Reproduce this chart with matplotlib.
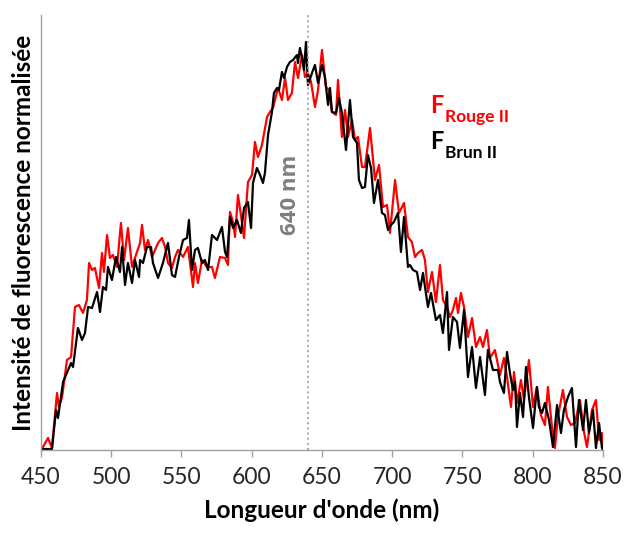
import numpy as np
import matplotlib
matplotlib.use("Agg")
import matplotlib.pyplot as plt

plt.rcParams['font.family'] = ['Lato', 'DejaVu Sans']

# Spectres (intensite brute, normalisee plus bas)
nm_rouge = [451.4, 455.0, 457.8, 461.4, 462.8, 465.0, 468.5, 471.4, 474.2, 477.0,
            479.9, 482.7, 484.2, 486.3, 488.4, 491.3, 493.4, 494.8, 497.0, 499.1,
            501.2, 504.1, 506.9, 509.1, 511.9, 514.8, 518.3, 520.5, 521.9, 524.0,
            526.2, 529.0, 533.3, 536.1, 538.3, 540.4, 543.2, 545.4, 547.5, 551.1,
            554.6, 558.2, 559.6, 561.7, 564.6, 568.1, 571.7, 573.8, 577.4, 581.0,
            583.1, 584.5, 586.7, 588.1, 590.2, 592.3, 594.5, 597.3, 600.2, 602.3,
            604.4, 607.3, 610.9, 613.0, 615.1, 618.7, 621.5, 623.7, 625.8, 628.6,
            630.8, 632.9, 635.8, 637.9, 640.0, 642.2, 645.0, 647.2, 650.0, 652.8,
            655.0, 657.1, 660.0, 661.4, 664.2, 666.4, 668.5, 671.4, 673.5, 675.6,
            678.5, 680.6, 684.2, 687.7, 690.6, 693.4, 696.3, 698.4, 702.0, 704.8,
            708.4, 711.2, 714.0, 716.2, 718.3, 721.2, 723.3, 725.4, 728.3, 731.1,
            734.0, 736.1, 739.0, 741.1, 743.2, 745.4, 746.8, 748.9, 751.1, 753.9,
            756.8, 759.6, 762.5, 764.6, 767.4, 769.6, 773.1, 776.7, 779.5, 781.7,
            784.5, 786.7, 788.8, 791.6, 793.8, 797.3, 800.2, 803.0, 805.8, 808.7,
            810.8, 813.7, 815.8, 817.9, 821.5, 824.4, 827.2, 830.1, 833.6, 836.5,
            838.6, 842.2, 845.0, 847.2, 849.3, 850.0]
i_rouge = [3, 12, 2, 57, 43, 53, 90, 93, 143, 145,
           137, 150, 187, 180, 182, 162, 197, 178, 215, 192,
           195, 183, 227, 190, 222, 183, 198, 207, 225, 200,
           210, 193, 207, 212, 203, 187, 182, 193, 200, 193,
           203, 163, 187, 167, 190, 183, 183, 172, 193, 192,
           185, 238, 228, 213, 255, 235, 212, 268, 275, 308,
           293, 305, 333, 338, 342, 362, 350, 372, 350, 357,
           388, 372, 395, 373, 377, 368, 343, 360, 400, 363,
           360, 338, 335, 370, 313, 340, 313, 330, 310, 313,
           283, 283, 322, 270, 285, 243, 245, 217, 270, 237,
           247, 213, 208, 193, 197, 200, 190, 158, 178, 148,
           185, 150, 143, 133, 140, 152, 137, 157, 143, 113,
           132, 103, 113, 103, 120, 92, 100, 75, 92, 73,
           43, 78, 47, 70, 50, 90, 43, 63, 35, 25,
           63, 23, 2, 33, 60, 33, 25, 27, 50, 18,
           3, 40, 50, 10, 17, 2]

nm_brun = [451.4, 457.8, 460.7, 462.1, 465.7, 471.4, 472.8, 476.3, 479.2, 481.3,
           483.5, 486.3, 489.9, 492.0, 494.1, 496.3, 497.7, 500.5, 503.4, 506.2,
           507.7, 509.8, 511.9, 514.8, 516.9, 519.8, 520.5, 522.6, 525.4, 528.3,
           529.7, 533.3, 536.8, 540.4, 543.2, 545.4, 548.2, 551.1, 553.9, 555.3,
           557.5, 559.6, 561.7, 564.6, 566.7, 568.9, 571.7, 575.3, 578.8, 581.0,
           582.4, 584.5, 586.7, 589.5, 592.3, 594.5, 597.3, 599.5, 600.9, 603.7,
           605.9, 608.0, 609.4, 611.6, 614.4, 615.8, 618.0, 619.4, 621.5, 623.0,
           625.1, 627.2, 629.4, 632.2, 632.9, 634.3, 635.8, 637.2, 638.6, 640.0,
           642.9, 645.0, 647.2, 650.0, 652.1, 654.3, 655.7, 657.1, 660.0, 662.1,
           664.2, 667.1, 669.9, 672.1, 674.9, 676.3, 678.5, 680.6, 682.7, 684.9,
           687.0, 689.9, 692.7, 694.8, 697.0, 699.1, 701.2, 704.1, 706.2, 708.4,
           711.2, 712.6, 714.8, 717.6, 719.8, 721.9, 725.4, 727.6, 731.1, 734.0,
           736.1, 739.0, 740.4, 743.2, 746.1, 748.2, 751.1, 753.9, 756.8, 759.6,
           762.5, 766.0, 768.1, 771.7, 775.3, 776.7, 779.5, 781.7, 783.8, 785.9,
           787.4, 788.8, 790.9, 793.1, 795.2, 797.3, 800.2, 803.0, 804.4, 806.6,
           808.7, 811.6, 814.4, 817.3, 820.1, 822.2, 825.1, 827.9, 830.8, 832.9,
           835.8, 837.9, 840.0, 842.9, 845.0, 847.2, 849.3, 850.0]
i_brun = [1, 1, 40, 32, 68, 87, 83, 122, 110, 117,
          143, 142, 158, 138, 163, 160, 183, 170, 193, 178,
          203, 165, 187, 167, 190, 173, 190, 187, 203, 203,
          187, 172, 187, 207, 175, 173, 193, 210, 212, 230,
          180, 200, 202, 187, 190, 180, 215, 210, 223, 198,
          193, 233, 222, 230, 217, 242, 248, 222, 267, 282,
          275, 267, 277, 315, 338, 357, 362, 360, 378, 372,
          383, 388, 390, 395, 387, 402, 392, 380, 408, 365,
          377, 385, 367, 385, 373, 345, 362, 338, 337, 352,
          337, 300, 350, 313, 307, 270, 262, 263, 295, 282,
          247, 270, 237, 235, 220, 225, 228, 237, 198, 233,
          183, 185, 180, 178, 160, 177, 143, 157, 130, 135,
          117, 158, 100, 133, 128, 102, 140, 73, 103, 62,
          93, 55, 100, 80, 80, 68, 57, 98, 77, 60,
          68, 23, 57, 33, 83, 53, 22, 63, 43, 37,
          47, 30, 3, 45, 17, 40, 53, 62, 3, 50,
          20, 50, 17, 40, 2, 27, 2, 0]

xticks = [450, 500, 550, 600, 650, 700, 750, 800, 850]
pic = 640

ref = max(i_brun)
y_rouge = np.array(i_rouge) / ref
y_brun = np.array(i_brun) / ref

fig = plt.figure(figsize=(6.24, 5.37), dpi=100)
ax = fig.add_axes([0.0657, 0.162, 0.9006, 0.81])

ax.plot(nm_rouge, y_rouge, color='#ff0000', lw=1.6)
ax.plot(nm_brun, y_brun, color='black', lw=1.6)
ax.axvline(pic, color='#a6a6a6', lw=1.4, ls=':')

ax.set_xlim(450, 850)
ax.set_ylim(0, 1.066)
ax.set_xticks(xticks)
ax.set_yticks([])
ax.tick_params(axis='x', direction='out', length=5, width=1, color='#a0a0a0',
               labelsize=16.5, labelcolor='#262626', pad=7)
for s in ['top', 'right']:
    ax.spines[s].set_visible(False)
for s in ['left', 'bottom']:
    ax.spines[s].set_color('#a0a0a0')
    ax.spines[s].set_linewidth(1)

ax.set_xlabel("Longueur d'onde (nm)", fontsize=17.5, fontweight='bold', labelpad=8)
ax.set_ylabel("Intensité de fluorescence normalisée", fontsize=17.5, fontweight='bold', labelpad=4)

ax.text(627.5, 0.625, '640 nm', rotation=90, color='#7f7f7f', fontsize=16,
        family=['Open Sans', 'DejaVu Sans'], fontweight='bold', fontstyle='normal',
        ha='center', va='center')

# legende faite a la main
f1 = ax.text(0.693, 0.775, 'F', transform=ax.transAxes, color='#ff0000',
             fontsize=17, fontweight='bold', va='baseline')
ax.annotate('Rouge II', xy=(1, 0), xycoords=f1, xytext=(0.5, -4),
            textcoords='offset points', color='#ff0000', fontsize=12.5,
            fontweight='bold', va='baseline')
f2 = ax.text(0.693, 0.693, 'F', transform=ax.transAxes, color='black',
             fontsize=17, fontweight='bold', va='baseline')
ax.annotate('Brun II', xy=(1, 0), xycoords=f2, xytext=(0.5, -4),
            textcoords='offset points', color='black', fontsize=12.5,
            fontweight='bold', va='baseline')

fig.savefig('out.png', dpi=100)
